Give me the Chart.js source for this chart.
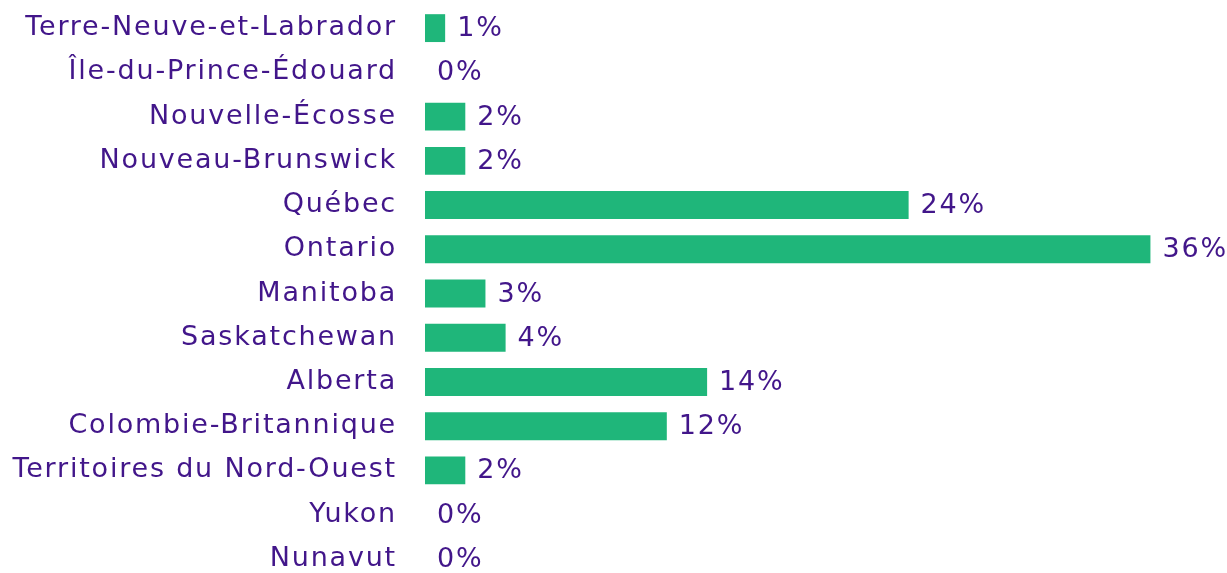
<!DOCTYPE html>
<html>
<head>
<meta charset="utf-8">
<script src="https://cdn.jsdelivr.net/npm/chart.js@4"></script>
<style>
  html, body { margin: 0; padding: 0; background: #fff; overflow: hidden; }
  .graphBox { width: 1227px; height: 581px; position: relative; }
</style>
</head>
<body>
<div class="graphBox">
  <canvas id="barChart"></canvas>
</div>
<script>
const provinces = [
  "Terre-Neuve-et-Labrador",
  "Île-du-Prince-Édouard",
  "Nouvelle-Écosse",
  "Nouveau-Brunswick",
  "Québec",
  "Ontario",
  "Manitoba",
  "Saskatchewan",
  "Alberta",
  "Colombie-Britannique",
  "Territoires du Nord-Ouest",
  "Yukon",
  "Nunavut"
];
const shares = [1, 0, 2, 2, 24, 36, 3, 4, 14, 12, 2, 0, 0];
const shareLabels = shares.map(v => v + "%");

const purple = "#42168a";
const green = "#1fb67a";
const fontFamily = "'DejaVu Sans', sans-serif";

// wider letter spacing so the text looks closer to the original typeface
const spacing = {
  id: "spacing",
  beforeDraw(chart) {
    chart.ctx.letterSpacing = "1.8px";
  }
};

// draws the "x%" text right after each bar
const valueLabels = {
  id: "valueLabels",
  afterDatasetsDraw(chart) {
    const ctx = chart.ctx;
    const meta = chart.getDatasetMeta(0);
    ctx.save();
    ctx.fillStyle = purple;
    ctx.font = "27px " + fontFamily;
    ctx.textAlign = "left";
    ctx.textBaseline = "middle";
    meta.data.forEach((bar, i) => {
      ctx.fillText(shareLabels[i], bar.x + 12, bar.y + 1);
    });
    ctx.restore();
  }
};

var barCtx = document.getElementById("barChart").getContext("2d");
var barChart = new Chart(barCtx, {
  type: "bar",
  data: {
    labels: provinces,
    datasets: [{
      data: shares,
      backgroundColor: green,
      borderWidth: 0,
      categoryPercentage: 1,
      barPercentage: 0.63
    }]
  },
  options: {
    indexAxis: "y",
    responsive: true,
    maintainAspectRatio: false,
    animation: false,
    layout: { padding: { top: 6, right: 0, bottom: 0, left: 0 } },
    plugins: {
      legend: { display: false },
      tooltip: { enabled: false }
    },
    scales: {
      x: {
        display: false,
        min: 0,
        max: 39.8
      },
      y: {
        grid: { display: false, drawTicks: false },
        border: { display: false },
        ticks: {
          color: purple,
          padding: 28,
          font: { family: fontFamily, size: 27 }
        },
        afterFit(scale) {
          scale.width = 425;
          scale.paddingTop = 0;
          scale.paddingBottom = 0;
        }
      }
    }
  },
  plugins: [spacing, valueLabels]
});
</script>
</body>
</html>
